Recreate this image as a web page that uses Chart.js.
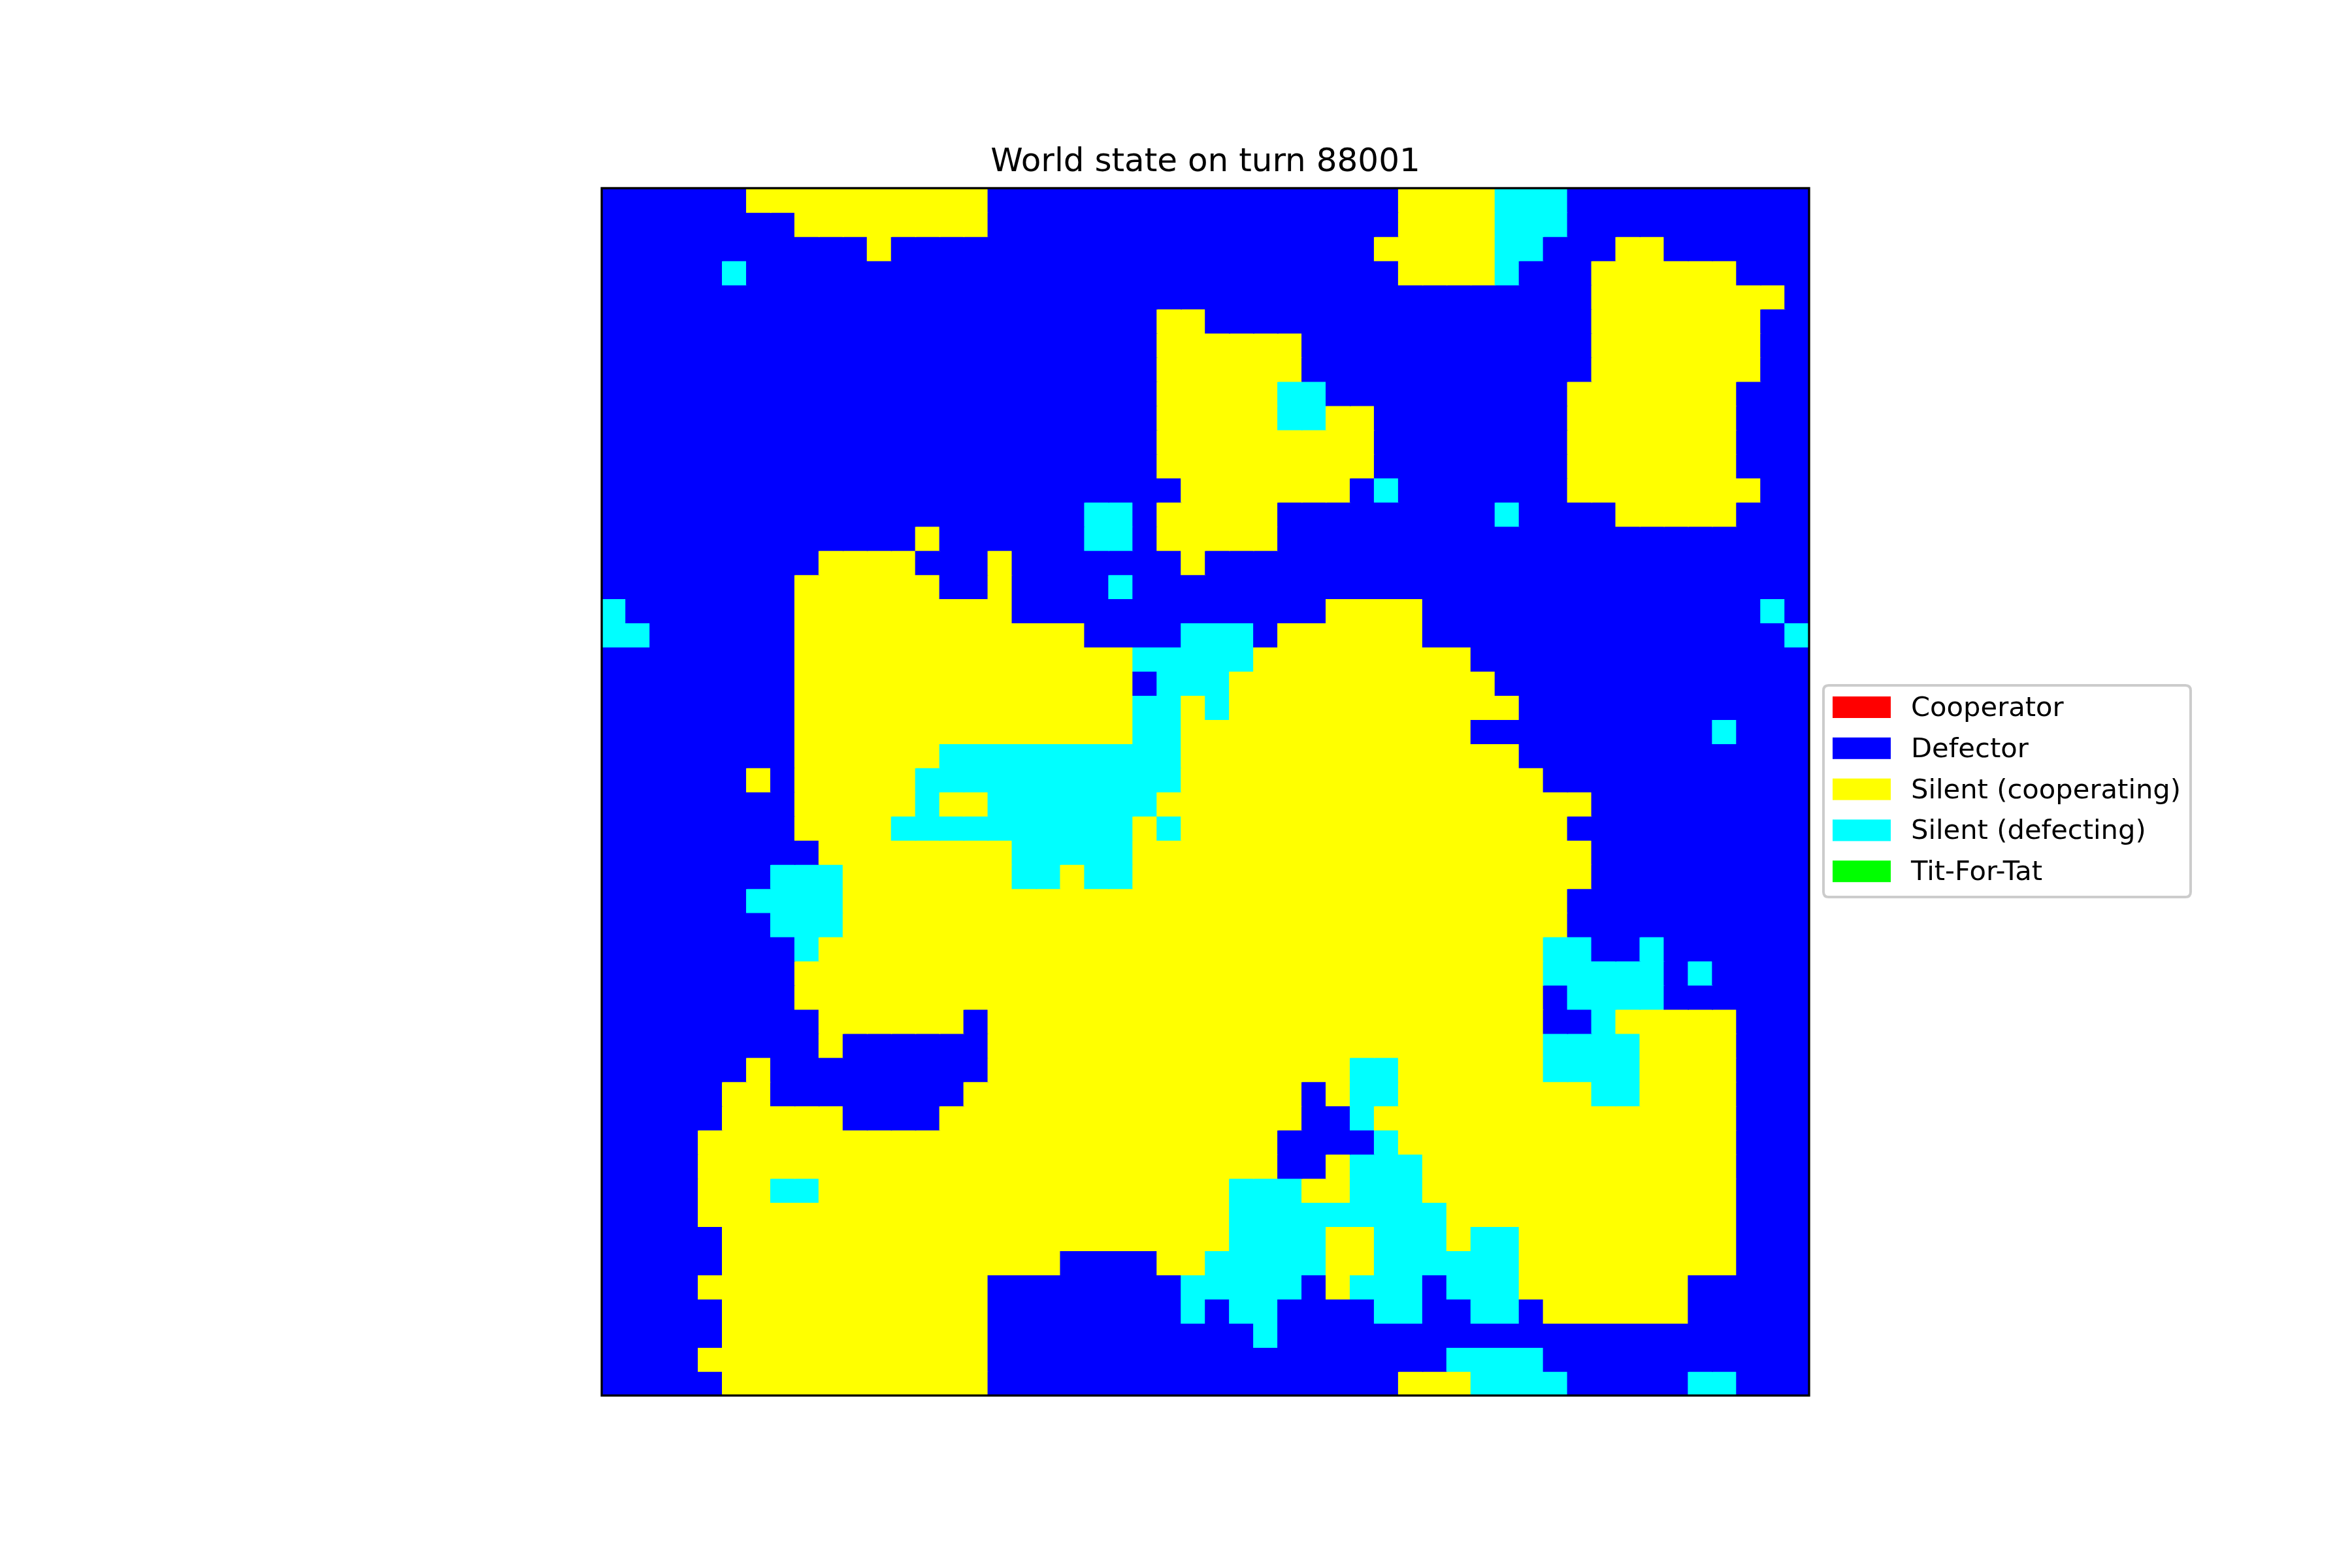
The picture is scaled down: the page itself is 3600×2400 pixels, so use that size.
<!DOCTYPE html>
<html>
<head>
<meta charset="utf-8">
<script src="https://cdn.jsdelivr.net/npm/chart.js@4/dist/chart.umd.min.js"></script>
<style>
html,body{margin:0;padding:0;background:#ffffff;}
canvas{display:block;}
</style>
</head>
<body>
<canvas id="c" width="3600" height="2400"></canvas>
<script>
// ---- data ----
const chartTitle = 'World state on turn 88001';
const stateNames  = ['Cooperator', 'Defector', 'Silent (cooperating)', 'Silent (defecting)', 'Tit-For-Tat'];
const stateCodes  = ['R', 'B', 'Y', 'C', 'G'];
const stateColors = ['#ff0000', '#0000ff', '#ffff00', '#00ffff', '#00ff00'];
const gridSize = 50;
// each row (top to bottom) as runs: code + run length, left to right
const gridRuns = [
  'B6 Y10 B17 Y4 C3 B10',
  'B8 Y8 B17 Y4 C3 B10',
  'B11 Y1 B20 Y5 C2 B3 Y2 B6',
  'B5 C1 B27 Y4 C1 B3 Y6 B3',
  'B41 Y8 B1',
  'B23 Y2 B16 Y7 B2',
  'B23 Y6 B12 Y7 B2',
  'B23 Y6 B12 Y7 B2',
  'B23 Y5 C2 B10 Y7 B3',
  'B23 Y5 C2 Y2 B8 Y7 B3',
  'B23 Y9 B8 Y7 B3',
  'B23 Y9 B8 Y7 B3',
  'B24 Y7 B1 C1 B7 Y8 B2',
  'B20 C2 B1 Y5 B9 C1 B4 Y5 B3',
  'B13 Y1 B6 C2 B1 Y5 B22',
  'B9 Y4 B3 Y1 B7 Y1 B25',
  'B8 Y6 B2 Y1 B4 C1 B28',
  'C1 B7 Y9 B13 Y4 B14 C1 B1',
  'C2 B6 Y12 B4 C3 B1 Y6 B15 C1',
  'B8 Y14 C5 Y9 B14',
  'B8 Y14 B1 C3 Y11 B13',
  'B8 Y14 C2 Y1 C1 Y12 B12',
  'B8 Y14 C2 Y12 B10 C1 B3',
  'B8 Y6 C10 Y14 B12',
  'B6 Y1 B1 Y5 C11 Y15 B11',
  'B8 Y5 C1 Y2 C7 Y18 B9',
  'B8 Y4 C10 Y1 C1 Y16 B10',
  'B9 Y8 C5 Y19 B9',
  'B7 C3 Y7 C2 Y1 C2 Y19 B9',
  'B6 C4 Y30 B10',
  'B7 C3 Y30 B10',
  'B8 C1 Y30 C2 B2 C1 B6',
  'B8 Y31 C5 B1 C1 B4',
  'B8 Y31 B1 C4 B6',
  'B9 Y6 B1 Y23 B2 C1 Y5 B3',
  'B9 Y1 B6 Y23 C4 Y4 B3',
  'B6 Y1 B9 Y15 C2 Y6 C4 Y4 B3',
  'B5 Y2 B8 Y14 B1 Y1 C2 Y8 C2 Y4 B3',
  'B5 Y5 B4 Y15 B2 C1 Y15 B3',
  'B4 Y24 B4 C1 Y14 B3',
  'B4 Y24 B2 Y1 C3 Y13 B3',
  'B4 Y3 C2 Y17 C3 Y2 C3 Y13 B3',
  'B4 Y22 C9 Y12 B3',
  'B5 Y21 C4 Y2 C3 Y1 C2 Y9 B3',
  'B5 Y14 B4 Y2 C5 Y2 C6 Y9 B3',
  'B4 Y12 B8 C5 B1 Y1 C3 B1 C3 Y7 B5',
  'B5 Y11 B8 C1 B1 C2 B4 C2 B2 C2 B1 Y6 B5',
  'B5 Y11 B11 C1 B22',
  'B4 Y12 B19 C4 B11',
  'B5 Y11 B17 Y3 C4 B5 C2 B3'
];
const columnLabels = Array.from({length: gridSize}, (_, i) => String(i));

// ---- decode runs to cell codes ----
function decodeRow(s) {
  const out = [];
  s.trim().split(/\s+/).forEach(tok => {
    const code = tok[0];
    const n = parseInt(tok.slice(1), 10);
    for (let k = 0; k < n; k++) out.push(code);
  });
  if (out.length !== gridSize) console.warn('row length', out.length, s);
  return out;
}
const gridRows = gridRuns.map(decodeRow);
const colorOf = {};
stateCodes.forEach((c, i) => { colorOf[c] = stateColors[i]; });

// each row is one stacked dataset; every cell is one unit-high bar
const datasets = gridRows.map((row, r) => ({
  label: 'row ' + r,
  data: row.map(() => 1),
  backgroundColor: row.map(code => colorOf[code]),
  borderWidth: 0,
  inflateAmount: 0.8,
  barPercentage: 1,
  categoryPercentage: 1,
  stack: 'grid'
}));

const FONT = "'DejaVu Sans', 'Liberation Sans', sans-serif";

const framePlugin = {
  id: 'axesFrame',
  afterDatasetsDraw(chart) {
    const {ctx, chartArea: a} = chart;
    ctx.save();
    ctx.strokeStyle = '#000000';
    ctx.lineWidth = 3.33;
    ctx.strokeRect(a.left, a.top, a.right - a.left, a.bottom - a.top);
    ctx.restore();
  }
};

const legendPlugin = {
  id: 'outsideLegend',
  afterDraw(chart) {
    const ctx = chart.ctx;
    const a = chart.chartArea;
    const fontPx = 41.67;
    const x0 = a.right + 22, x1 = a.right + 584;
    const y0 = 1049, y1 = 1373;
    ctx.save();
    ctx.beginPath();
    const r = 8;
    ctx.moveTo(x0 + r, y0);
    ctx.lineTo(x1 - r, y0); ctx.quadraticCurveTo(x1, y0, x1, y0 + r);
    ctx.lineTo(x1, y1 - r); ctx.quadraticCurveTo(x1, y1, x1 - r, y1);
    ctx.lineTo(x0 + r, y1); ctx.quadraticCurveTo(x0, y1, x0, y1 - r);
    ctx.lineTo(x0, y0 + r); ctx.quadraticCurveTo(x0, y0, x0 + r, y0);
    ctx.closePath();
    ctx.fillStyle = 'rgba(255,255,255,0.8)';
    ctx.fill();
    ctx.strokeStyle = '#cccccc';
    ctx.lineWidth = 4;
    ctx.stroke();
    const rowGap = 62.8;
    const firstCenter = 1082.5;
    ctx.font = fontPx + 'px ' + FONT;
    ctx.textAlign = 'left';
    ctx.textBaseline = 'alphabetic';
    stateNames.forEach((name, i) => {
      const cy = firstCenter + i * rowGap;
      ctx.fillStyle = stateColors[i];
      ctx.fillRect(x0 + 14, cy - 16.5, 89, 33);
      ctx.fillStyle = '#000000';
      ctx.fillText(name, x0 + 134, cy + 13.5);
    });
    ctx.restore();
  }
};

new Chart(document.getElementById('c'), {
  type: 'bar',
  data: { labels: columnLabels, datasets },
  options: {
    responsive: false,
    animation: false,
    devicePixelRatio: 1,
    events: [],
    layout: { padding: { left: 921, right: 831, top: 219, bottom: 264 } },
    plugins: {
      legend: { display: false },
      tooltip: { enabled: false },
      title: {
        display: true,
        text: chartTitle,
        color: '#000000',
        font: { family: FONT, size: 50, weight: 'normal', lineHeight: 1.2 },
        padding: { top: 0, bottom: 9 }
      }
    },
    scales: {
      x: { stacked: true, display: false, grid: { display: false } },
      y: { stacked: true, display: false, reverse: true, min: 0, max: gridSize, grid: { display: false } }
    }
  },
  plugins: [framePlugin, legendPlugin]
});
</script>
</body>
</html>
